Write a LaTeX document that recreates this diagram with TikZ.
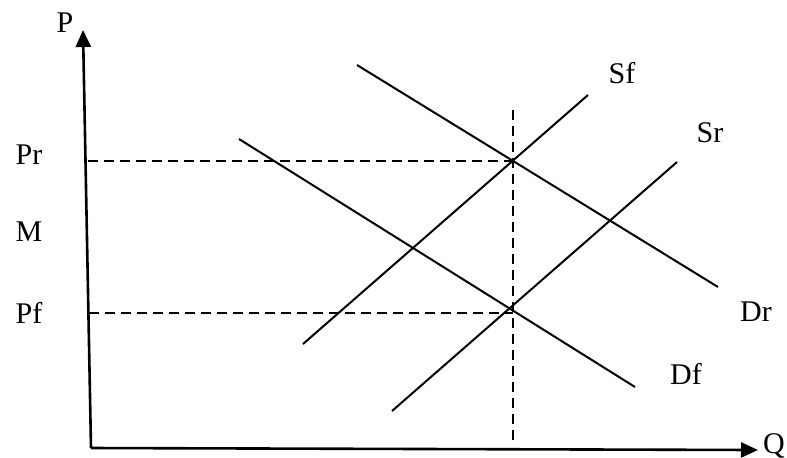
\documentclass[tikz,border=0pt]{standalone}
\usepackage{fontspec}
\setmainfont{Liberation Serif}
\usetikzlibrary{arrows.meta}

\begin{document}
\begin{tikzpicture}[
  x=0.5pt, y=-0.5pt,
  every node/.style={font=\fontsize{15}{18}\selectfont, inner sep=0pt},
  axis/.style={line width=1.3pt, -{Triangle[width=7.5pt,length=8.5pt]}},
  curve/.style={line width=1pt},
  guide/.style={line width=0.9pt, dash pattern=on 5pt off 3pt}
]
\useasboundingbox (0,0) rectangle (787,457);

% axes
\coordinate (o) at (91,448);
\coordinate (ptop) at (83,30);
\coordinate (qend) at (758,450);
\draw[axis] (o) -- (ptop);
\draw[axis] (o) -- (qend);
\node (plab) at (65,23) {P};
\node (qlab) at (774,446) {Q};

% supply and demand curves
\coordinate (sf1) at (303,344);
\coordinate (sf2) at (588,95);
\coordinate (sr1) at (392,411);
\coordinate (sr2) at (677,162);
\coordinate (dr1) at (357,65);
\coordinate (dr2) at (718,287);
\coordinate (df1) at (239,139);
\coordinate (df2) at (635,387);
\draw[curve] (sf1) -- (sf2);
\draw[curve] (sr1) -- (sr2);
\draw[curve] (dr1) -- (dr2);
\draw[curve] (df1) -- (df2);

% price guides
\coordinate (pr1) at (88,161);
\coordinate (pr2) at (513,161);
\coordinate (pf1) at (89,313);
\coordinate (pf2) at (513,313);
\coordinate (v1) at (513,110);
\coordinate (v2) at (513,442);
\draw[guide] (pr1) -- (pr2);
\draw[guide] (pf1) -- (pf2);
\draw[guide] (v1) -- (v2);

% labels
\node (prlab) at (29,155) {Pr};
\node (mlab) at (29,232) {M};
\node (pflab) at (29,313) {Pf};
\node (sflab) at (622,73) {Sf};
\node (srlab) at (710,133) {Sr};
\node (drlab) at (756,312) {Dr};
\node (dflab) at (686,374) {Df};
\end{tikzpicture}
\end{document}
